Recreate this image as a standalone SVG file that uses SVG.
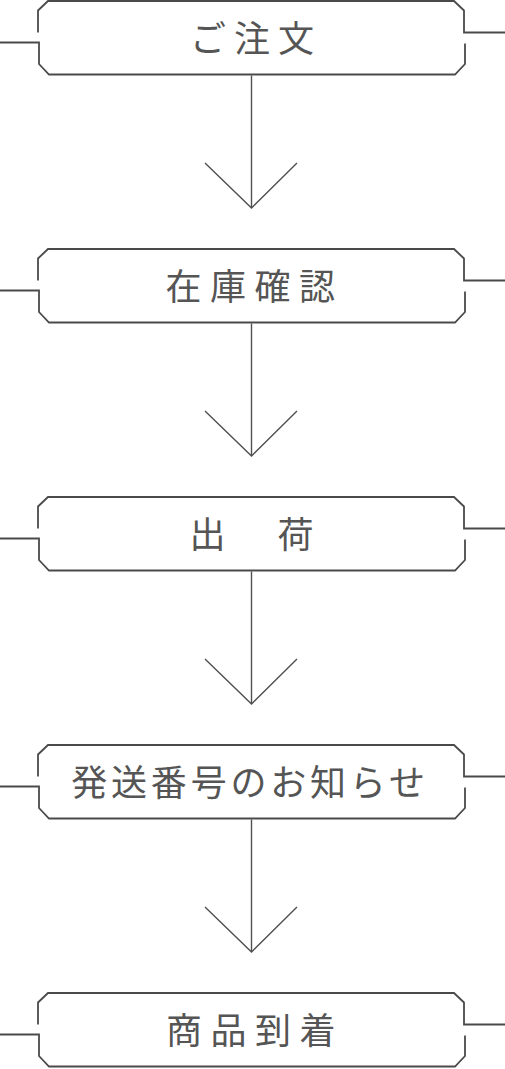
<svg xmlns="http://www.w3.org/2000/svg" width="505" height="1069" viewBox="0 0 505 1069">
<style>
.frame{fill:none;stroke:#4a4a4a;stroke-width:1.8;stroke-linejoin:miter}
.conn{fill:none;stroke:#505050;stroke-width:1.4}
.lbl{font-family:"Noto Sans CJK JP","Noto Sans CJK SC",sans-serif;font-size:36px;font-weight:400;fill:#555555;text-anchor:middle}
</style>
<defs>
<g id="box">
<path class="frame" d="M0 42.5 H39 V64 L49 74.5 H455 L465 64 V43.5"/>
<path class="frame" d="M505 32.5 H464 V10.5 L454 1 H48 L38 10.5 V32.5"/>
</g>
<g id="arrow">
<path class="conn" d="M251.5 75.5 V207"/>
<path class="conn" d="M205 163 L251.5 208 L297 163"/>
</g>
</defs>
<g id="connectors">
<use href="#arrow"/>
<use href="#arrow" y="248"/>
<use href="#arrow" y="496"/>
<use href="#arrow" y="744"/>
</g>
<g id="node1">
<use href="#box"/>
<text class="lbl" x="256" y="52" letter-spacing="8">ご注文</text>
</g>
<g id="node2">
<use href="#box" y="248"/>
<text class="lbl" x="254.5" y="300" letter-spacing="8.5">在庫確認</text>
</g>
<g id="node3">
<use href="#box" y="496"/>
<text class="lbl" x="255.5" y="548" letter-spacing="8">出　荷</text>
</g>
<g id="node4">
<use href="#box" y="744"/>
<text class="lbl" x="250" y="796" letter-spacing="3.8">発送番号のお知らせ</text>
</g>
<g id="node5">
<use href="#box" y="992"/>
<text class="lbl" x="255" y="1044" letter-spacing="8.5">商品到着</text>
</g>
</svg>
